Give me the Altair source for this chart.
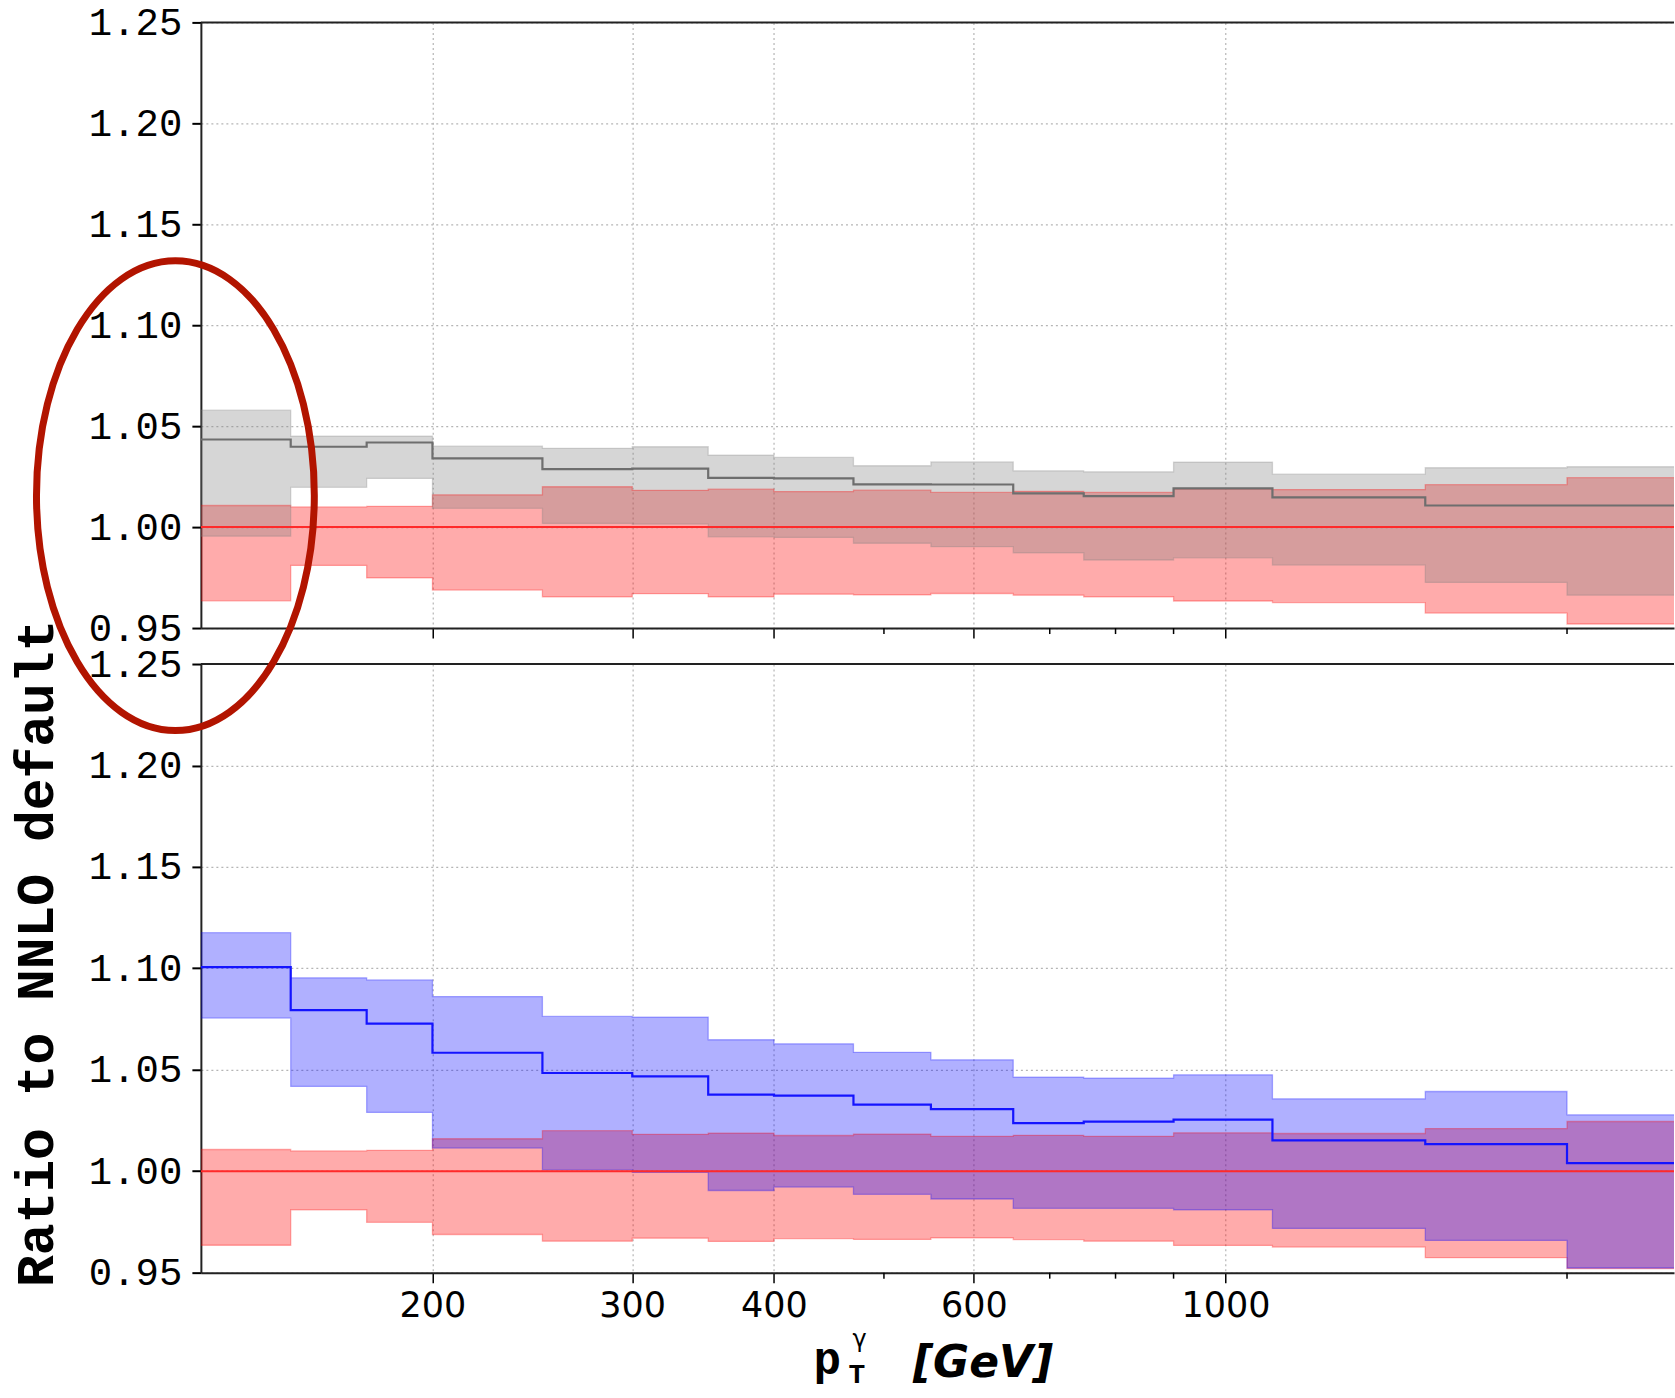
import altair as alt
import pandas as pd

# ---------------- data ----------------
EDGES = [125, 150, 175, 200, 250, 300, 350, 400, 470, 550, 650, 750, 900, 1100, 1500, 2000, 2500]

# NNLO default (red), identical in both panels
NNLO_MID = [1.0, 1.0, 1.0, 1.0, 1.0, 1.0, 1.0, 1.0, 1.0, 1.0, 1.0, 1.0, 1.0, 1.0, 1.0, 1.0]
NNLO_HI = [1.0107, 1.0100, 1.0103, 1.0160, 1.0200, 1.0182, 1.0188, 1.0176,
           1.0183, 1.0172, 1.0177, 1.0172, 1.0189, 1.0186, 1.0210, 1.0245]
NNLO_LO = [0.9635, 0.9810, 0.9748, 0.9688, 0.9655, 0.9670, 0.9654, 0.9668,
           0.9664, 0.9671, 0.9663, 0.9655, 0.9634, 0.9626, 0.9574, 0.9520]

# upper panel (grey)
GREY_MID = [1.0434, 1.0398, 1.0419, 1.0340, 1.0287, 1.0290, 1.0244, 1.0241,
            1.0212, 1.0211, 1.0167, 1.0153, 1.0192, 1.0147, 1.0107, 1.0107]
GREY_HI = [1.0579, 1.0450, 1.0450, 1.0401, 1.0390, 1.0398, 1.0356, 1.0345,
           1.0304, 1.0323, 1.0279, 1.0274, 1.0322, 1.0262, 1.0294, 1.0299]
GREY_LO = [0.9955, 1.0197, 1.0241, 1.0093, 1.0018, 1.0015, 0.9952, 0.9949,
           0.9920, 0.9903, 0.9873, 0.9837, 0.9848, 0.9812, 0.9726, 0.9663]

# lower panel (blue)
BLUE_MID = [1.1006, 1.0794, 1.0727, 1.0584, 1.0484, 1.0467, 1.0378, 1.0373,
            1.0328, 1.0306, 1.0237, 1.0244, 1.0254, 1.0152, 1.0134, 1.0040]
BLUE_HI = [1.1176, 1.0953, 1.0943, 1.0861, 1.0763, 1.0760, 1.0648, 1.0628,
           1.0586, 1.0549, 1.0464, 1.0459, 1.0475, 1.0357, 1.0393, 1.0278]
BLUE_LO = [1.0755, 1.0418, 1.0290, 1.0114, 1.0007, 0.9994, 0.9905, 0.9922,
           0.9886, 0.9863, 0.9817, 0.9817, 0.9810, 0.9718, 0.9659, 0.9523]

X_DOMAIN = [125, 2485]
Y_DOMAIN = [0.95, 1.25]
MAJOR_TICKS = [200, 300, 400, 600, 1000]
MINOR_TICKS = [500, 700, 800, 900, 2000]
Y_TICKS = [0.95, 1.00, 1.05, 1.10, 1.15, 1.20, 1.25]
FRAME_TOP = [1.25]
ANNOT_PT = [118.7]
ANNOT_RATIO = [1.333]

# ---------------- layout ----------------
W = 1474
H_TOP = 606
H_BOT = 609

RED = "#ff0000"
GREY = "#808080"
BLUE = "#0000ff"
ELLIPSE_PATH = "M 0 -1 A 0.5915 1 0 1 1 0 1 A 0.5915 1 0 1 1 0 -1 Z"


def step_table(lo, mid, hi):
    return pd.DataFrame({
        "pt": EDGES,
        "lo": lo + [lo[-1]],
        "mid": mid + [mid[-1]],
        "hi": hi + [hi[-1]],
    })


XS = alt.Scale(type="log", domain=X_DOMAIN, nice=False)
YS = alt.Scale(domain=Y_DOMAIN, nice=False, zero=False)


def x_axis(labels, title_text=None):
    kw = dict(values=MAJOR_TICKS, labels=labels, tickSize=10, tickWidth=1.5,
              tickColor="black", domainColor="#222222", domainWidth=2,
              grid=True, gridDash=[2, 3], gridColor="#b5b5b5", gridWidth=1.2,
              labelFlush=False)
    if labels:
        kw.update(format="d", labelFont="DejaVu Sans", labelFontSize=35,
                  labelColor="black", labelPadding=6)
    if title_text:
        kw.update(title=title_text, titleFont="DejaVu Sans", titleFontSize=44,
                  titleFontWeight="bold", titleFontStyle="italic", titleColor="black",
                  titleX=712, titleY=104, titleAlign="left", titleBaseline="alphabetic")
    else:
        kw["title"] = None
    return alt.Axis(**kw)


def y_axis(title_text=None):
    kw = dict(values=Y_TICKS, format=".2f", labelFont="Liberation Mono",
              labelFontSize=39, labelFontWeight="normal", labelColor="black",
              labelPadding=10, tickSize=9, tickWidth=2, tickColor="black",
              domainColor="#222222", domainWidth=2, grid=True, gridDash=[2, 3],
              gridColor="#b5b5b5", gridWidth=1.2, labelFlush=False, labelOverlap=False)
    if title_text:
        kw.update(title=title_text, titleFont="Liberation Mono", titleFontSize=53,
                  titleFontWeight="bold", titleColor="black", titleAngle=270,
                  titleX=-164, titleY=289, titleAlign="center", titleBaseline="middle")
    else:
        kw["title"] = None
    return alt.Axis(**kw)


def panel(lo, mid, hi, color, fill_op, line_color, height, xaxis, yaxis):
    ref = step_table(NNLO_LO, NNLO_MID, NNLO_HI)
    alt_df = step_table(lo, mid, hi)
    X = alt.X("pt:Q", scale=XS, axis=xaxis)

    def Y(f):
        return alt.Y(f"{f}:Q", scale=YS, axis=yaxis)

    red_band = alt.Chart(ref).mark_area(interpolate="step-after", color=RED,
                                        opacity=0.33, clip=True).encode(
        x=X, y=Y("lo"), y2="hi:Q")
    band = alt.Chart(alt_df).mark_area(interpolate="step-after", color=color,
                                       opacity=fill_op, clip=True).encode(
        x=X, y=Y("lo"), y2="hi:Q")

    layers = [red_band, band]
    for df, c in ((ref, RED), (alt_df, color)):
        for f in ("lo", "hi"):
            layers.append(alt.Chart(df).mark_line(interpolate="step-after", color=c,
                                                  strokeOpacity=0.3, strokeWidth=1.3,
                                                  clip=True).encode(x=X, y=Y(f)))
    layers.append(alt.Chart(alt_df).mark_line(interpolate="step-after", color=line_color,
                                              strokeWidth=2.2, clip=True).encode(
        x=X, y=Y("mid")))
    layers.append(alt.Chart(ref).mark_line(interpolate="step-after", color="#ff2a2a",
                                           strokeWidth=2.0, clip=True).encode(
        x=X, y=Y("mid")))
    # top frame line
    layers.append(alt.Chart(pd.DataFrame({"r": FRAME_TOP})).mark_rule(
        color="#222222", strokeWidth=2).encode(y=Y("r")))
    # minor ticks
    layers.append(alt.Chart(pd.DataFrame({"pt": MINOR_TICKS})).mark_rule(
        color="black", strokeWidth=1.5).encode(
        x=X, y=alt.value(height), y2=alt.value(height + 6)))
    return layers, X, Y


top_layers, _, _ = panel(GREY_LO, GREY_MID, GREY_HI, GREY, 0.32, "#6e6e6e", H_TOP,
                         x_axis(False), y_axis())
top = alt.layer(*top_layers).properties(width=W, height=H_TOP)

bot_layers, XB, YB = panel(BLUE_LO, BLUE_MID, BLUE_HI, BLUE, 0.31, "#1414ff", H_BOT,
                           x_axis(True, "[GeV]"), y_axis("Ratio to NNLO default"))

# x-axis title pieces: p, subscript T, superscript gamma
bot_layers.append(alt.Chart(pd.DataFrame({"t": ["p"]})).mark_text(
    font="Liberation Mono", fontSize=46, fontWeight="bold", align="left",
    baseline="alphabetic", color="black").encode(
    text="t:N", x=alt.value(613), y=alt.value(710)))
bot_layers.append(alt.Chart(pd.DataFrame({"t": ["T"]})).mark_text(
    font="Liberation Mono", fontSize=28, fontWeight="bold", align="left",
    baseline="alphabetic", color="black").encode(
    text="t:N", x=alt.value(648), y=alt.value(719)))
bot_layers.append(alt.Chart(pd.DataFrame({"t": ["γ"]})).mark_text(
    font="DejaVu Sans", fontSize=24, align="center",
    baseline="alphabetic", color="black").encode(
    text="t:N", x=alt.value(659), y=alt.value(683)))

# hand-drawn style red ellipse annotation
bot_layers.append(alt.Chart(pd.DataFrame({"pt": ANNOT_PT, "ratio": ANNOT_RATIO})).mark_point(
    shape=ELLIPSE_PATH, size=220900, filled=False, color="#b21400", stroke="#b21400",
    strokeWidth=7, opacity=1, clip=False).encode(x=XB, y=YB("ratio")))

bottom = alt.layer(*bot_layers).properties(width=W, height=H_BOT)

chart = alt.vconcat(top, bottom, spacing=36, bounds="flush").properties(
    padding={"left": 10, "top": 3, "right": 0, "bottom": 6},
    background="white",
).configure_view(strokeWidth=0)

chart.save("out.html", embed_options={"renderer": "svg", "actions": False})
